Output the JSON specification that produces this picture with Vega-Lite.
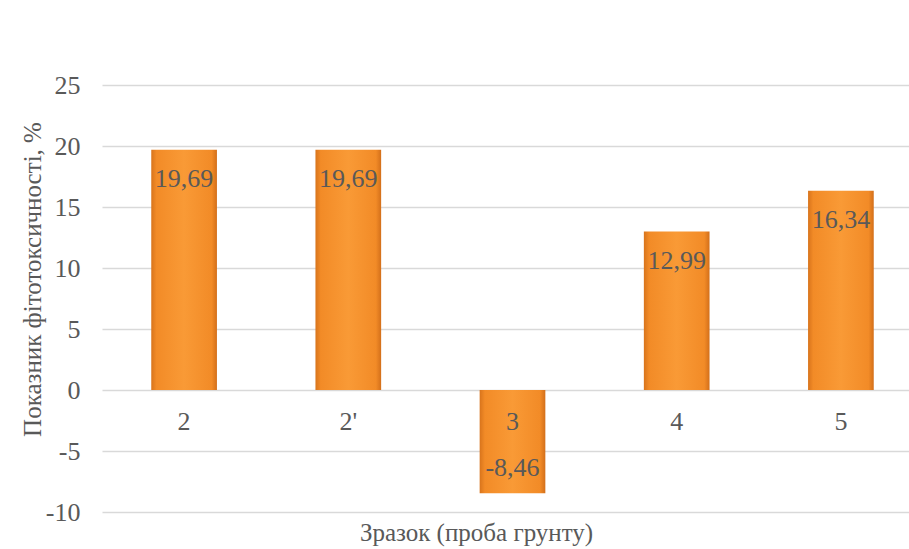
{
  "$schema": "https://vega.github.io/schema/vega-lite/v6.json",
  "autosize": {"type": "none"},
  "width": 821,
  "height": 427,
  "padding": {"left": 102, "top": 85, "right": 0, "bottom": 37},
  "background": "white",
  "config": {
    "locale": {"number": {"decimal": ",", "thousands": " ", "grouping": [3], "currency": ["", ""], "minus": "-"}},
    "font": "Liberation Serif",
    "view": {"stroke": null},
    "axis": {"labelFont": "Liberation Serif", "titleFont": "Liberation Serif", "labelColor": "#595959", "titleColor": "#595959", "titleFontWeight": "normal"}
  },
  "data": {"values": [
    {"sample": "2", "value": 19.69},
    {"sample": "2'", "value": 19.69},
    {"sample": "3", "value": -8.46},
    {"sample": "4", "value": 12.99},
    {"sample": "5", "value": 16.34}
  ]},
  "encoding": {
    "x": {"field": "sample", "type": "nominal", "sort": null,
      "scale": {"paddingInner": 0.6, "paddingOuter": 0.3},
      "axis": {"labels": false, "ticks": false, "domain": false, "title": "Зразок (проба грунту)", "titleFontSize": 25, "titleX": 374, "titleY": 20, "titleBaseline": "middle", "titleAnchor": "start", "titleAlign": "center"}}
  },
  "layer": [
    {
      "mark": {"type": "bar", "fill": {"gradient": "linear", "x1": 0, "x2": 1, "y1": 0, "y2": 0,
        "stops": [{"offset": 0, "color": "#D8741C"}, {"offset": 0.08, "color": "#F28B27"}, {"offset": 0.5, "color": "#F99A36"}, {"offset": 0.92, "color": "#F28B27"}, {"offset": 1, "color": "#D36F1A"}]}},
      "encoding": {
        "y": {"field": "value", "type": "quantitative",
          "scale": {"domain": [-10, 25], "nice": false},
          "axis": {"values": [-10, -5, 0, 5, 10, 15, 20, 25], "ticks": false, "domain": false, "gridColor": "#D9D9D9", "gridWidth": 1.5, "labelFontSize": 26, "labelPadding": 22,
            "title": "Показник фітотоксичності, %", "titleFontSize": 25, "titleX": -70, "titleY": 194, "titleBaseline": "middle", "titleAngle": -90, "titleAlign": "center"}}
      }
    },
    {
      "mark": {"type": "text", "fontSize": 26, "color": "#595959", "baseline": "middle", "dy": 32},
      "encoding": {"y": {"datum": 0, "type": "quantitative"}, "text": {"field": "sample"}}
    },
    {
      "transform": [{"filter": "datum.value >= 0"}],
      "mark": {"type": "text", "fontSize": 26, "color": "#595959", "baseline": "middle", "dy": 29},
      "encoding": {"y": {"field": "value", "type": "quantitative"}, "text": {"field": "value", "format": ".2f"}}
    },
    {
      "transform": [{"filter": "datum.value < 0"}],
      "mark": {"type": "text", "fontSize": 26, "color": "#595959", "baseline": "middle", "dy": -25},
      "encoding": {"y": {"field": "value", "type": "quantitative"}, "text": {"field": "value", "format": ".2f"}}
    }
  ]
}
